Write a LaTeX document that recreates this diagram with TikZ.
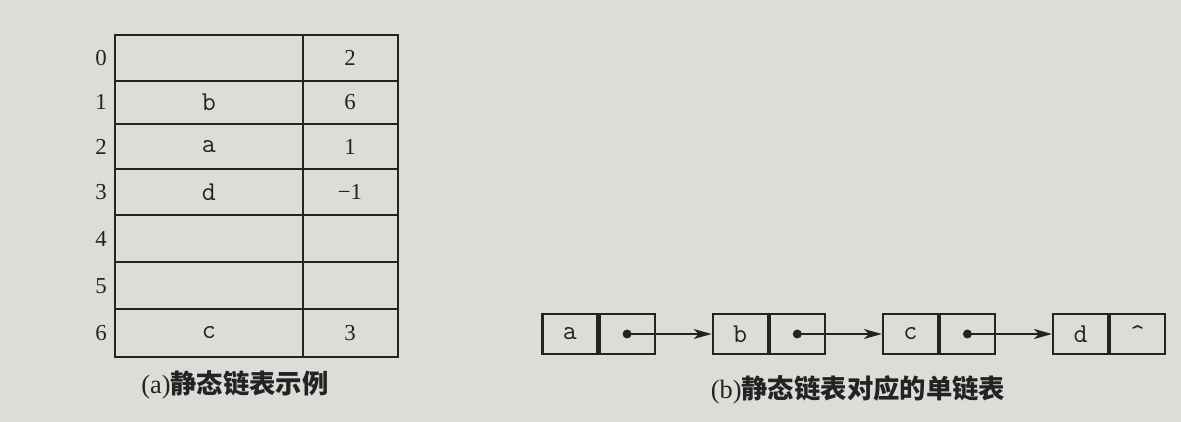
\documentclass[tikz,border=0pt]{standalone}
\usepackage{fontspec}
\setmainfont{Liberation Serif}
\newfontfamily\cjk{Noto Sans CJK SC}
\usetikzlibrary{positioning,arrows.meta}
\definecolor{paper}{RGB}{221,220,217}
\definecolor{ink}{RGB}{35,35,35}
\tikzset{
  grid line/.style={draw=ink,line width=1.3pt},
  num/.style={font=\fontsize{13}{15}\selectfont,text=ink},
  letter/.style={font=\ttfamily\fontsize{15.5}{17}\selectfont,text=ink},
  cell/.style={draw=ink,line width=1.2pt,minimum width=1.1cm,minimum height=0.8cm,inner sep=0pt,letter},
  link/.style={draw=ink,line width=1.1pt,-{Stealth[length=3.6mm,width=2mm,inset=1mm]}},
  caption/.style={font=\fontsize{15}{17}\selectfont,text=ink}
}
\begin{document}
\begin{tikzpicture}[x=0.02cm,y=-0.02cm]
    \fill[paper] (0,0) rectangle (1181,422);
    \useasboundingbox (0,0) rectangle (1181,422);

    \draw[grid line] (115,35) rectangle (398,357);
    \draw[grid line] (303,35) -- (303,357);
    \foreach \y in {81,124,169,215,262,309}
      \draw[grid line] (115,\y) -- (398,\y);

    \foreach \i/\yc in {0/58,1/102,2/147,3/192,4/239,5/286,6/333}
      \node[num] (idx\i) at (101,\yc) {\i};

    \foreach \i/\yc/\v/\n in {0/58//2,1/102/b/6,2/147/a/1,3/192/d/−1,6/333/c/3} {
      \node[letter] (data\i) at (209,\yc) {\v};
      \node[num] (next\i) at (350,\yc) {\n};
    }

    \node[caption] (capa) at (235,385) {(a){\cjk\bfseries 静态链表示例}};

    \node[cell] (a) at (570,334) {a};
    \node[cell,right=0pt of a] (ap) {};
    \node[cell,right=1.12cm of ap] (b) {b};
    \node[cell,right=0pt of b] (bp) {};
    \node[cell,right=1.12cm of bp] (c) {c};
    \node[cell,right=0pt of c] (cp) {};
    \node[cell,right=1.12cm of cp] (d) {d};
    \node[cell,right=0pt of d] (dp) {\textasciicircum};

    \foreach \p/\q in {ap/b,bp/c,cp/d} {
      \fill[ink] (\p.center) circle (0.9mm);
      \draw[link] (\p.center) -- (\q.west);
    }

    \node[caption] (capb) at (858,390) {(b){\cjk\bfseries 静态链表对应的单链表}};
\end{tikzpicture}
\end{document}
